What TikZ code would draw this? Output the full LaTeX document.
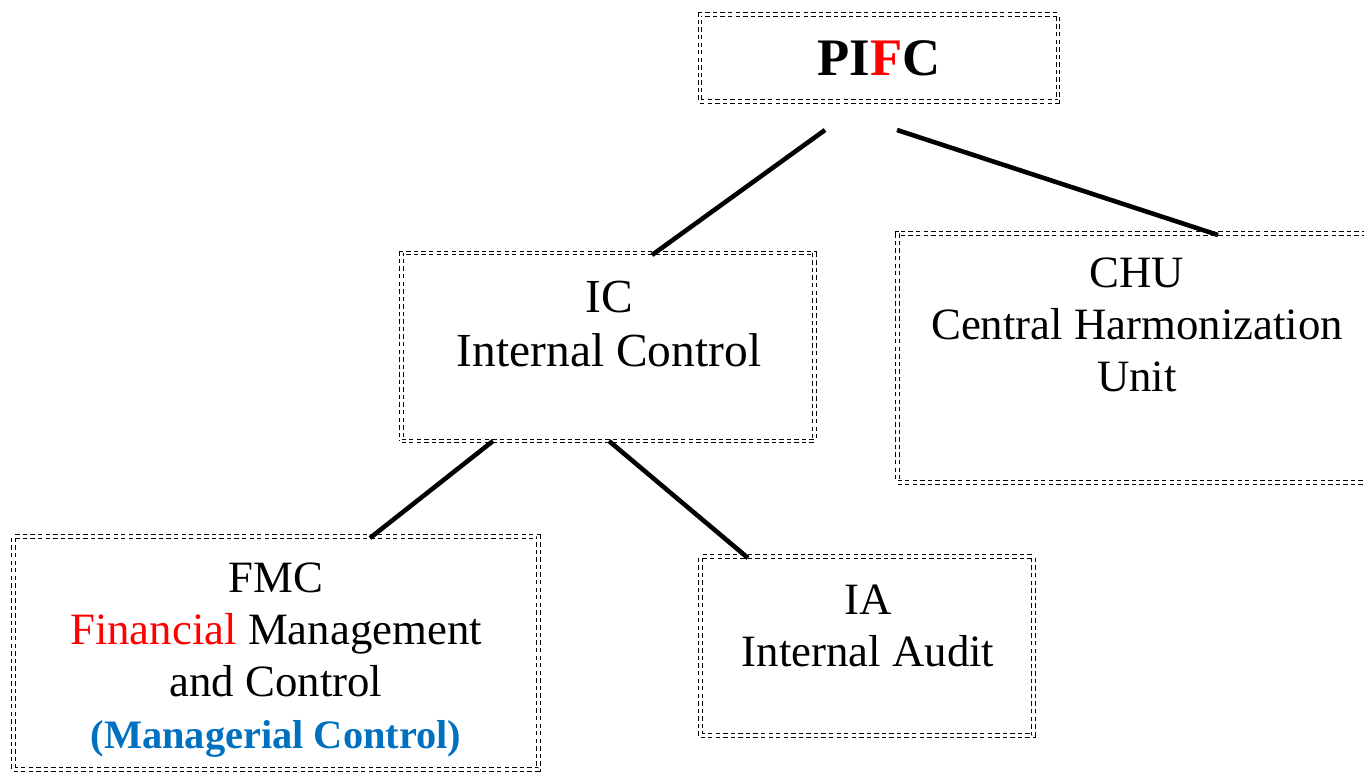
\documentclass[tikz,border=0pt]{standalone}
\usepackage{fontspec}
\setmainfont{Liberation Serif}
\usepackage{xcolor}

\definecolor{fmcred}{RGB}{255,0,0}
\definecolor{mcblue}{RGB}{0,112,192}

\tikzset{
  unitbox/.style = {draw, dashed, double, double distance=1.2pt, line width=0.6pt,
    dash pattern=on 2.5pt off 1.8pt, inner sep=0pt},
  unittext/.style = {align=center, font=\fontsize{25.5}{29.5}\selectfont},
  link/.style = {line width=2.6pt}
}

\begin{document}
\begin{tikzpicture}[x=0.02cm, y=-0.02cm]
\useasboundingbox (0,0) rectangle (1364,771);

\node[unitbox, minimum width=358*0.02cm, minimum height=87*0.02cm,
  font=\fontsize{30}{36}\selectfont\bfseries] (pifc) at (879,58)
  {PI\textcolor{fmcred}{F}C};

\node[unitbox, minimum width=413*0.02cm, minimum height=188*0.02cm] (ic) at (608,347) {};
\node[unittext, font=\fontsize{27}{31}\selectfont] (ictext) at (609,324)
  {IC\\Internal Control};

\node[unitbox, minimum width=480*0.02cm, minimum height=249*0.02cm,
  anchor=north west] (chu) at (897,233) {};
\node[unittext] (chutext) at (1137,325)
  {CHU\\Central Harmonization\\Unit};

\node[unitbox, minimum width=525*0.02cm, minimum height=233*0.02cm] (fmc) at (276,653) {};
\node[unittext] (fmctext) at (276,660)
  {FMC\\\textcolor{fmcred}{Financial} Management\\and Control\\
   \textcolor{mcblue}{\fontsize{23}{29.5}\selectfont\bfseries(Managerial Control)}};

\node[unitbox, minimum width=333*0.02cm, minimum height=179*0.02cm] (ia) at (867,646) {};
\node[unittext] (iatext) at (868,626)
  {IA\\Internal Audit};

% connectors
\coordinate (pifcl) at (825,130);
\coordinate (pifcr) at (897,130);
\coordinate (ictop) at (652,255);
\coordinate (chutop) at (1218,235);
\coordinate (icl) at (493,441);
\coordinate (icr) at (609,441);
\coordinate (fmctop) at (370,538);
\coordinate (iatop) at (748,558);

\draw[link] (pifcl) -- (ictop);
\draw[link] (pifcr) -- (chutop);
\draw[link] (icl) -- (fmctop);
\draw[link] (icr) -- (iatop);
\end{tikzpicture}
\end{document}
